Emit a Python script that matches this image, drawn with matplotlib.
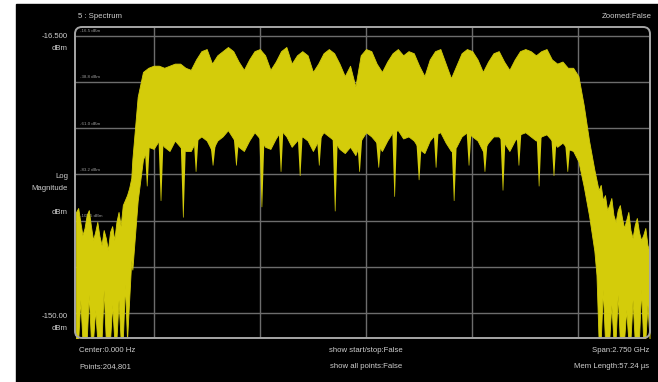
import matplotlib
matplotlib.use("Agg")
import matplotlib.pyplot as plt
from matplotlib.patches import FancyBboxPatch, Rectangle
import numpy as np

# ---- spectrum trace, stored as min/max envelope per frequency bin ----
# out-of-band noise, low side
noise_lo_mhz = [-1365, -1355, -1345, -1335, -1325, -1315, -1305, -1295, -1285, -1275,
                -1265, -1255, -1245, -1235, -1225, -1215, -1205, -1195, -1185, -1175,
                -1165, -1155, -1145, -1135, -1125, -1115, -1105]
noise_lo_max = [-101.3, -99.4, -106.1, -112.4, -109.0, -102.8, -100.4, -108.1, -114.8, -110.9,
                -106.1, -112.9, -117.2, -110.0, -113.8, -119.6, -110.9, -108.1, -114.8, -106.1,
                -101.3, -108.1, -98.0, -95.6, -93.2, -89.8, -85.0]
noise_lo_min = [-163, -163, -143.6, -163, -163, -163, -141.2, -163, -163, -148.4,
                -163, -163, -163, -138.8, -163, -163, -163, -146.0, -163, -163,
                -143.6, -163, -163, -136.4, -163, -143.6, -124.4]

# in-band signal
band_mhz = [-1100, -1075, -1050, -1025, -1000, -975, -950, -925, -900, -875,
            -850, -825, -800, -775, -750, -725, -700, -675, -650, -625,
            -600, -575, -550, -525, -500, -475, -450, -425, -400, -375,
            -350, -325, -300, -275, -250, -225, -200, -175, -150, -125,
            -100, -75, -50, -25, 0, 25, 50, 75, 100, 125,
            150, 175, 200, 225, 250, 275, 300, 325, 350, 375,
            400, 425, 450, 475, 500, 525, 550, 575, 600, 625,
            650, 675, 700, 725, 750, 775, 800, 825, 850, 875,
            900, 925, 950, 975, 1000, 1025, 1050, 1075]
band_max = [-76, -46, -34, -32, -31, -31, -32, -31, -30, -30,
            -32, -33, -28, -24, -23, -30, -26, -24, -22, -24,
            -29, -33, -28, -24, -23, -26, -33, -29, -24, -22,
            -30, -26, -24, -26, -34, -30, -25, -23, -25, -30,
            -36, -31, -41, -26, -23, -24, -30, -34, -29, -25,
            -23, -26, -24, -25, -31, -36, -28, -24, -23, -30,
            -37, -31, -25, -23, -24, -28, -34, -29, -25, -24,
            -29, -33, -28, -24, -23, -24, -26, -24, -23, -28,
            -30, -29, -32, -32, -36, -50, -67, -81]
band_min = [-129, -96, -76, -70, -71, -67, -70, -72, -67, -70,
            -72, -72, -67, -65, -67, -72, -67, -65, -62, -66,
            -70, -72, -67, -63, -66, -70, -71, -66, -62, -65,
            -70, -67, -65, -67, -72, -67, -63, -65, -67, -71,
            -73, -70, -74, -67, -63, -65, -68, -72, -67, -63,
            -62, -66, -65, -67, -71, -73, -67, -64, -63, -68,
            -72, -70, -65, -63, -65, -67, -72, -68, -65, -65,
            -68, -72, -67, -64, -63, -65, -67, -65, -64, -67,
            -70, -68, -71, -72, -77, -89, -103, -120]

# out-of-band noise, high side
noise_hi_mhz = [1085, 1095, 1105, 1115, 1125, 1135, 1145, 1155, 1165, 1175,
                1185, 1195, 1205, 1215, 1225, 1235, 1245, 1255, 1265, 1275,
                1285, 1295, 1305, 1315, 1325, 1335]
noise_hi_max = [-85.9, -90.8, -88.3, -95.6, -93.2, -100.4, -98.0, -94.6, -102.8, -106.1,
                -100.4, -98.0, -104.2, -109.0, -105.2, -101.3, -110.0, -113.8, -107.6, -104.2,
                -110.9, -114.8, -112.4, -109.0, -117.2, -120.5]
noise_hi_min = [-131.6, -163, -163, -138.8, -163, -163, -163, -146.0, -163, -163,
                -141.2, -163, -163, -163, -148.4, -163, -163, -143.6, -163, -163,
                -163, -138.8, -163, -163, -146.0, -163]

# narrow nulls below the in-band floor
notch_mhz = [-1030, -965, -860, -800, -720, -610, -490, -400, -310, -220,
             -145, -30, 60, 135, 250, 330, 415, 485, 560, 645,
             720, 815, 885, 950]
notch_dbm = [-89, -96, -104, -82, -79, -79, -99, -82, -84, -79,
             -101, -82, -80, -94, -86, -80, -96, -79, -82, -91,
             -79, -89, -84, -82]

# ---- display settings ----
hgrid_dbm = [-16.5, -38.75, -61.0, -83.25, -105.5, -127.75, -150.0]
vgrid_mhz = [-1000, -500, 0, 500, 1000]

W, H = 658, 382
TRACE = "#d4cc0a"
TXT = "#cfcfcf"
GRID = "#6c6c6c"
FRAME = "#a6a6a6"

fig = plt.figure(figsize=(W / 100, H / 100), dpi=100, facecolor="white")
fig.patches.append(Rectangle((16 / W, 0), 1 - 16 / W, 1 - 4 / H,
                             transform=fig.transFigure, color="black", zorder=-5))

# data axes, placed on the graticule frame
fx0, fx1, fy0, fy1 = 75, 650, 27, 338
ax = fig.add_axes([fx0 / W, (H - fy1) / H, (fx1 - fx0) / W, (fy1 - fy0) / H])
ax.set_xlim(-1370, 1337)
ax.set_ylim(-161.9, -12.4)
ax.axis("off")

for g in vgrid_mhz:
    ax.axvline(g, color=GRID, lw=1.0, zorder=1)
for g in hgrid_dbm:
    ax.axhline(g, color=GRID, lw=1.0, zorder=1)

freq = noise_lo_mhz + band_mhz + noise_hi_mhz
tmax = noise_lo_max + band_max + noise_hi_max
tmin = noise_lo_min + band_min + noise_hi_min
ax.fill_between(freq, tmin, tmax, color=TRACE, lw=0.6, edgecolor=TRACE, zorder=3)

# tapered nulls hanging from the local floor
floor_at = np.interp(notch_mhz, freq, tmin)
for f, top, tip in zip(notch_mhz, floor_at, notch_dbm):
    ax.fill([f - 12, f + 12, f + 1.5, f - 1.5], [top + 2, top + 2, tip, tip],
            color=TRACE, lw=0, zorder=3)

# grid value labels inside the graticule
for g in hgrid_dbm[:5]:
    ax.text(-1345, g + 1.2, f"{g:.1f} dBm", color="#9a9a9a", fontsize=3.2,
            family="Liberation Sans", va="bottom", ha="left", zorder=2)

# overlay in pixel coordinates for frame and annotations
ov = fig.add_axes([0, 0, 1, 1], facecolor="none")
ov.set_xlim(0, W)
ov.set_ylim(H, 0)
ov.axis("off")
ov.add_patch(FancyBboxPatch((fx0, fy0), fx1 - fx0, fy1 - fy0,
                            boxstyle="round,pad=0,rounding_size=7",
                            fc="none", ec=FRAME, lw=1.4))

fs = 5.6
kw = dict(color=TXT, fontsize=fs, family="Liberation Sans", va="center")
ov.text(78, 16, "5 : Spectrum", ha="left", **kw)
ov.text(652, 16, "Zoomed:False", ha="right", **kw)
ov.text(68, 37, "-16.500", ha="right", **kw)
ov.text(68, 48, "dBm", ha="right", **kw)
ov.text(68, 177, "Log", ha="right", **kw)
ov.text(68, 188, "Magnitude", ha="right", **kw)
ov.text(68, 212, "dBm", ha="right", **kw)
ov.text(68, 317, "-150.00", ha="right", **kw)
ov.text(68, 328, "dBm", ha="right", **kw)
ov.text(79, 351, "Center:0.000 Hz", ha="left", **kw)
ov.text(79, 367, "Points:204,801", ha="left", **kw)
ov.text(366, 351, "show start/stop:False", ha="center", **kw)
ov.text(366, 367, "show all points:False", ha="center", **kw)
ov.text(649, 351, "Span:2.750 GHz", ha="right", **kw)
ov.text(649, 367, "Mem Length:57.24 µs", ha="right", **kw)

fig.savefig("out.png", dpi=100, facecolor=fig.get_facecolor())
